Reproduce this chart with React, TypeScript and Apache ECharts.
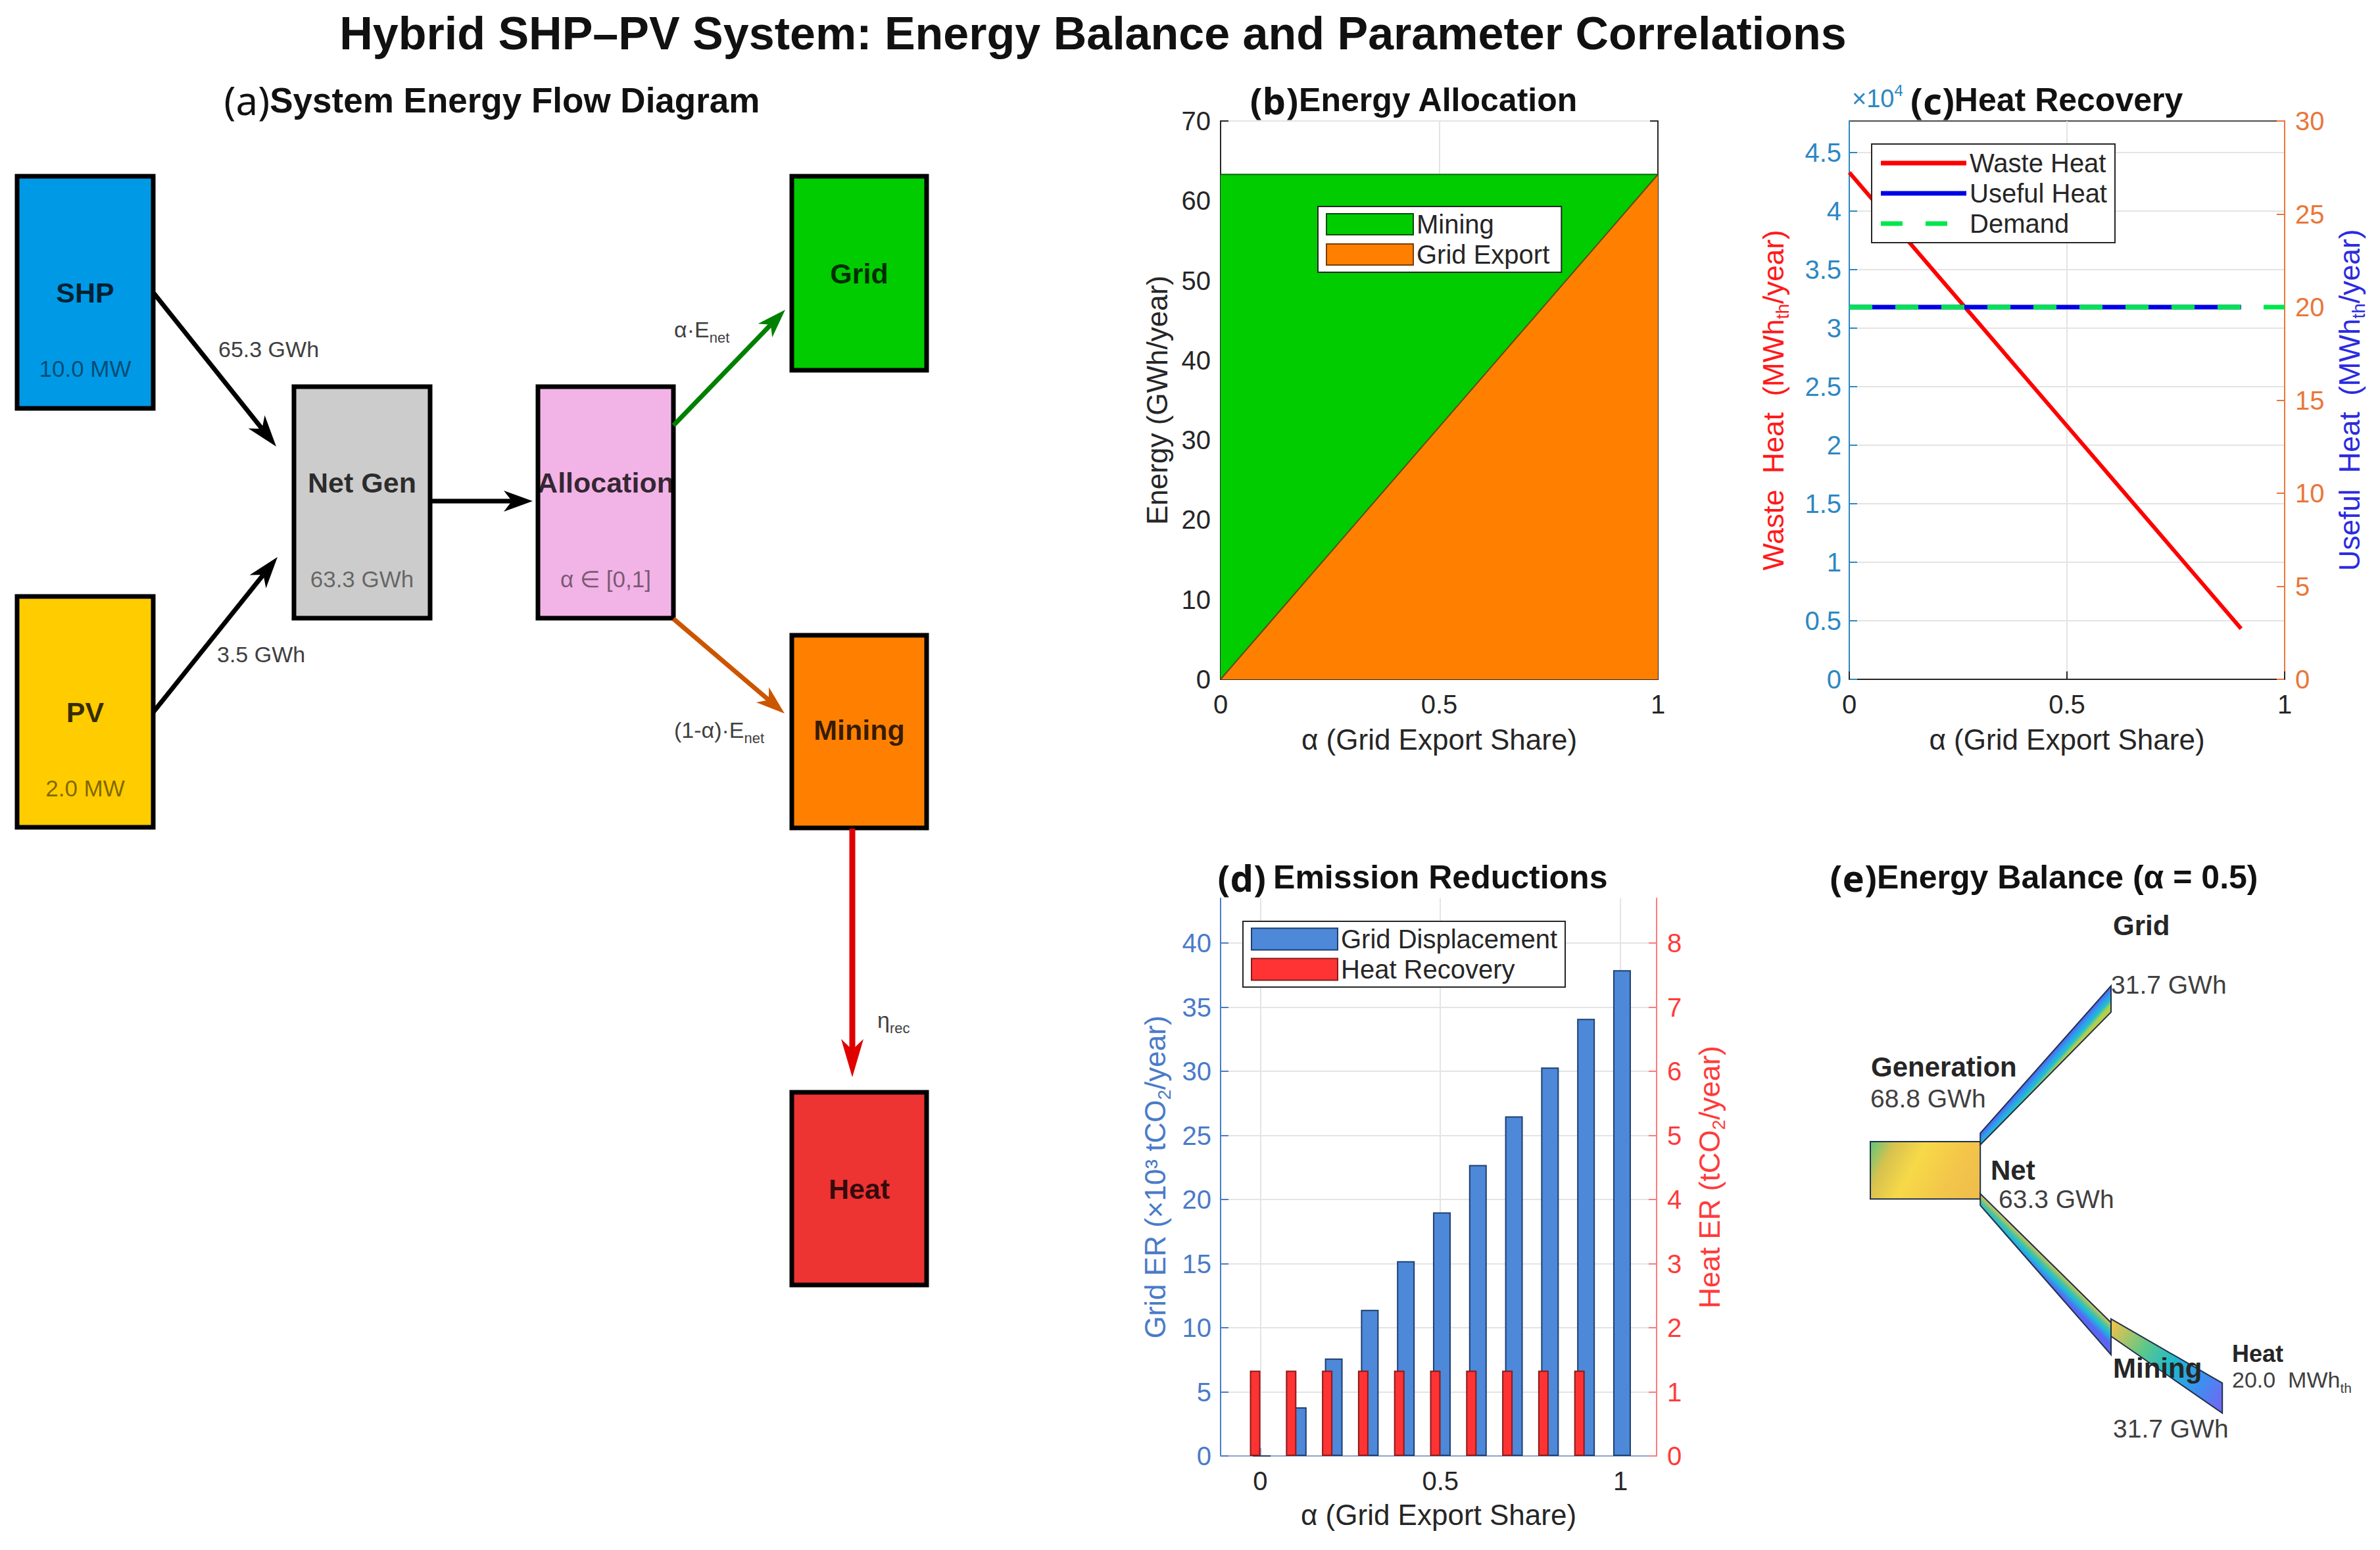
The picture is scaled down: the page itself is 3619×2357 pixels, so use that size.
import React, { useEffect, useRef } from 'react';
import * as echarts from 'echarts';

const W = 3619;
const H = 2357;
const FONT = '"Liberation Sans", Arial, Helvetica, sans-serif';
const TAG_FONT = '"Noto Sans", "Open Sans", sans-serif';
const INK = '#262626';

// ---------------- (a) System energy flow diagram ----------------
const flowNodeNames = ['SHP', 'PV', 'Net Gen', 'Allocation', 'Grid', 'Mining', 'Heat'];
const flowNodeValues = ['10.0 MW', '2.0 MW', '63.3 GWh', 'α ∈ [0,1]', '', '', ''];
const flowEdgeLabels = ['65.3 GWh', '3.5 GWh', '', '{m|α·E}{s|net}', '{m|(1-α)·E}{s|net}', '{m|η}{s|rec}'];

// ---------------- (b) Energy allocation ----------------
const allocAlpha = [0, 0.1, 0.2, 0.3, 0.4, 0.5, 0.6, 0.7, 0.8, 0.9, 1.0];
const gridExportGWh = [0, 6.33, 12.66, 18.99, 25.32, 31.65, 37.98, 44.31, 50.64, 56.97, 63.3];
const miningGWh = [63.3, 56.97, 50.64, 44.31, 37.98, 31.65, 25.32, 18.99, 12.66, 6.33, 0];

// ---------------- (c) Heat recovery ----------------
const heatAlpha = [0, 0.1, 0.2, 0.3, 0.4, 0.5, 0.6, 0.7, 0.8, 0.9];
const wasteHeatMWh = [43300, 38970, 34640, 30310, 25980, 21650, 17320, 12990, 8660, 4330];
const usefulHeatMWh = [20, 20, 20, 20, 20, 20, 20, 20, 20, 20];
const demandAlpha = [0, 1];
const demandMWh = [20, 20];
const wasteTicks = [0, 5000, 10000, 15000, 20000, 25000, 30000, 35000, 40000, 45000];

// ---------------- (d) Emission reductions ----------------
const erAlpha = [0, 0.1, 0.2, 0.3, 0.4, 0.5, 0.6, 0.7, 0.8, 0.9, 1.0];
const gridERk = [0, 3.8, 7.6, 11.4, 15.2, 19.0, 22.7, 26.5, 30.3, 34.1, 37.9];
const heatERt = [1.33, 1.33, 1.33, 1.33, 1.33, 1.33, 1.33, 1.33, 1.33, 1.33, null];
const gridERTicks = [0, 5, 10, 15, 20, 25, 30, 35, 40];
const heatERTicks = [0, 1, 2, 3, 4, 5, 6, 7, 8];
const alphaTicks = [0, 0.5, 1];

// ---------------- (e) Energy balance ----------------
const balanceNames = ['Generation', 'Grid', 'Mining', 'Heat'];
const balanceValues = [68.8, 31.7, 31.7, 20.0];
const netGWh = 63.3;

// ---------------- layout (positions / styles only) ----------------
const flowBoxLayout = [
  { x: 26, y: 268, w: 207, h: 353, ny: 0.5, vy: 0.83, fill: '#0099E6' },
  { x: 26, y: 907, w: 207, h: 351, ny: 0.5, vy: 0.83, fill: '#FFCC00' },
  { x: 447, y: 588, w: 207, h: 352, ny: 0.415, vy: 0.83, fill: '#CCCCCC' },
  { x: 818, y: 588, w: 206, h: 352, ny: 0.415, vy: 0.83, fill: '#F2B3E6' },
  { x: 1204, y: 268, w: 205, h: 295, ny: 0.5, vy: 0.83, fill: '#00CC00' },
  { x: 1204, y: 966, w: 205, h: 293, ny: 0.49, vy: 0.83, fill: '#FF8000' },
  { x: 1204, y: 1661, w: 205, h: 293, ny: 0.5, vy: 0.83, fill: '#EE3333' },
];
const flowArrowLayout = [
  { from: [234, 446], to: [420, 679], color: '#000000', lw: 7, hl: 48, hw: 32, lx: 332, ly: 531 },
  { from: [233, 1083], to: [422, 847], color: '#000000', lw: 7, hl: 48, hw: 32, lx: 330, ly: 995 },
  { from: [655, 762], to: [810, 762], color: '#000000', lw: 7, hl: 44, hw: 32, lx: 0, ly: 0 },
  { from: [1024, 647], to: [1194, 471], color: '#008000', lw: 7, hl: 44, hw: 30, lx: 1025, ly: 501 },
  { from: [1024, 941], to: [1193, 1085], color: '#CC5500', lw: 7, hl: 44, hw: 30, lx: 1025, ly: 1110 },
  { from: [1296, 1260], to: [1296, 1638], color: '#E00000', lw: 9, hl: 58, hw: 34, lx: 1334, ly: 1551 },
];
// polygons in the hidden (e) cartesian grid (0..10 x 0..10), order ul, ur, lr, ll
const balanceGeom = [
  { pts: [[0.55, 5.8], [2.64, 5.8], [2.64, 4.71], [0.55, 4.71]], grad: 'diag',
    stops: [[0, '#5cc67a'], [0.18, '#d8c24e'], [0.4, '#f7d948'], [0.7, '#f3c64a'], [1, '#eebc4c']] },
  { pts: [[2.64, 5.96], [5.125, 8.76], [5.125, 8.26], [2.64, 5.74]], grad: 'perp',
    stops: [[0, '#5a5cef'], [0.35, '#2d9bf0'], [0.7, '#22c0cc'], [1, '#b5cf4a']] },
  { pts: [[2.64, 4.81], [5.125, 2.36], [5.125, 1.75], [2.64, 4.59]], grad: 'perp',
    stops: [[0, '#e8c24c'], [0.35, '#4cc59a'], [0.65, '#1fb3e3'], [1, '#5a66f2']] },
  { pts: [[5.125, 2.43], [7.24, 1.21], [7.24, 0.64], [5.125, 2.1]], grad: 'along',
    stops: [[0, '#ebc24c'], [0.3, '#5dc78a'], [0.55, '#1db9d0'], [0.8, '#3c90f0'], [1, '#6c6cf2']] },
];
const SOLID_ICON = 'path://M0,0H130V7H0Z';
const DASH_ICON = 'path://M0,0H33V7H0Z M68,0H101V7H68Z M130,0L130,7Z';

function txt(x: number, y: number, text: string, o: any = {}) {
  const align = o.align ?? 'left';
  return {
    type: 'text', x, y, z: o.z ?? 50, silent: true,
    style: {
      text, fill: o.fill ?? INK, fontSize: o.size ?? 40, fontFamily: o.family ?? FONT,
      fontWeight: o.weight ?? 'normal', align, verticalAlign: 'middle',
      textAlign: align, textVerticalAlign: 'middle', rich: o.rich,
    },
  };
}

function arrowEls(from: number[], to: number[], color: string, lw: number, hl: number, hw: number) {
  const dx = to[0] - from[0];
  const dy = to[1] - from[1];
  const L = Math.hypot(dx, dy);
  const ux = dx / L, uy = dy / L;
  const px = -uy, py = ux;
  const bx = to[0] - ux * hl, by = to[1] - uy * hl;
  const nx = to[0] - ux * hl * 0.72, ny = to[1] - uy * hl * 0.72;
  return [
    { type: 'line', z: 20, silent: true, shape: { x1: from[0], y1: from[1], x2: nx, y2: ny }, style: { stroke: color, lineWidth: lw } },
    { type: 'polygon', z: 21, silent: true, shape: { points: [to, [bx + px * hw / 2, by + py * hw / 2], [nx, ny], [bx - px * hw / 2, by - py * hw / 2]] }, style: { fill: color } },
  ];
}

function axis(o: any) {
  const color = o.color ?? INK;
  const lineColor = o.lineColor ?? color;
  return {
    type: 'value', gridIndex: o.grid, position: o.position,
    min: o.min, max: o.max, interval: o.interval,
    name: o.name, nameLocation: 'middle', nameGap: o.nameGap, nameRotate: o.nameRotate,
    nameTextStyle: { color: o.nameColor ?? INK, fontSize: 44, fontFamily: FONT, rich: o.rich },
    axisLine: { show: true, onZero: false, lineStyle: { color: lineColor, width: 2 } },
    axisTick: { show: true, inside: true, length: 12, lineStyle: { color: lineColor, width: 2 }, customValues: o.ticks },
    axisLabel: { show: o.labels ?? true, color, fontSize: 40, fontFamily: FONT, margin: o.margin ?? 14, customValues: o.ticks, formatter: o.formatter },
    splitLine: { show: !!o.split, lineStyle: { color: '#e4e4e4', width: 2 } },
  };
}

function subRich(color: string, size: number, sub: number, weight = 'normal') {
  return {
    a: { color, fill: color, fontSize: size, fontFamily: FONT, fontWeight: weight, lineHeight: size + 12 },
    m: { color, fill: color, fontSize: size, fontFamily: FONT, fontWeight: weight, lineHeight: size + 12 },
    s: { color, fill: color, fontSize: sub, fontFamily: FONT, fontWeight: weight, lineHeight: sub, verticalAlign: 'bottom' },
    b: { color, fill: color, fontSize: sub, fontFamily: FONT, fontWeight: weight, lineHeight: sub, verticalAlign: 'top' },
  };
}

function buildOption() {
  const graphics: any[] = [];

  // main title and panel titles
  graphics.push(txt(1662, 51, 'Hybrid SHP–PV System: Energy Balance and Parameter Correlations', { align: 'center', size: 70, weight: 'bold', fill: '#111' }));
  const titleRich = (tagWeight: string, tagSize = 56, size = 50) => ({
    t: { fontFamily: TAG_FONT, fontSize: tagSize, fontWeight: tagWeight, fill: '#111' },
    s: { fontFamily: FONT, fontSize: size, fontWeight: 'bold', fill: '#111' },
  });
  graphics.push(txt(748, 152, '{t|(a)}{s|System Energy Flow Diagram}', { align: 'center', rich: titleRich('normal', 60, 53) }));
  graphics.push(txt(2150, 152, '{t|(b)}{s|Energy Allocation}', { align: 'center', rich: titleRich('bold') }));
  graphics.push(txt(2905, 152, '{t|(c)}{s|Heat Recovery}', { align: 'left', rich: titleRich('bold') }));
  graphics.push(txt(2148, 1334, '{t|(d)} {s|Emission Reductions}', { align: 'center', rich: titleRich('bold') }));
  graphics.push(txt(3108, 1334, '{t|(e)}{s|Energy Balance (α = 0.5)}', { align: 'center', rich: titleRich('bold') }));
  graphics.push(txt(2816, 150, '{a|×10}{b|4}', { rich: subRich('#2D87C3', 38, 24) }));

  // (a) boxes
  flowBoxLayout.forEach((b, i) => {
    graphics.push({ type: 'rect', z: 10, silent: true, shape: { x: b.x, y: b.y, width: b.w, height: b.h }, style: { fill: b.fill } });
    graphics.push(txt(b.x + b.w / 2, b.y + b.h * b.ny, flowNodeNames[i], { align: 'center', size: 43, weight: 'bold', fill: 'rgba(0,0,0,0.78)', z: 11 }));
    if (flowNodeValues[i]) {
      graphics.push(txt(b.x + b.w / 2, b.y + b.h * b.vy, flowNodeValues[i], { align: 'center', size: 35, fill: 'rgba(0,0,0,0.5)', z: 11 }));
    }
    graphics.push({ type: 'rect', z: 12, silent: true, shape: { x: b.x, y: b.y, width: b.w, height: b.h }, style: { fill: 'none', stroke: '#000', lineWidth: 7 } });
  });
  // (a) arrows
  flowArrowLayout.forEach((a, i) => {
    graphics.push(...arrowEls(a.from, a.to, a.color, a.lw, a.hl, a.hw));
    if (flowEdgeLabels[i]) {
      graphics.push(txt(a.lx, a.ly, flowEdgeLabels[i], { size: 34, fill: '#404040', rich: subRich('#404040', 34, 22) }));
    }
  });

  // (e) labels
  graphics.push(txt(3213, 1407, 'Grid', { size: 42, weight: 'bold' }));
  graphics.push(txt(3210, 1497, `${balanceValues[1].toFixed(1)} GWh`, { size: 39, fill: '#404040' }));
  graphics.push(txt(2845, 1622, balanceNames[0], { size: 42, weight: 'bold' }));
  graphics.push(txt(2844, 1670, `${balanceValues[0].toFixed(1)} GWh`, { size: 39, fill: '#404040' }));
  graphics.push(txt(3027, 1779, 'Net', { size: 42, weight: 'bold' }));
  graphics.push(txt(3039, 1823, `${netGWh.toFixed(1)} GWh`, { size: 39, fill: '#404040' }));
  graphics.push(txt(3213, 2080, balanceNames[2], { size: 42, weight: 'bold' }));
  graphics.push(txt(3213, 2172, `${balanceValues[2].toFixed(1)} GWh`, { size: 39, fill: '#404040' }));
  graphics.push(txt(3394, 2058, balanceNames[3], { size: 36, weight: 'bold' }));
  graphics.push(txt(3394, 2098, `{a|${balanceValues[3].toFixed(1)}  MWh}{s|th}`, { rich: subRich('#404040', 34, 21) }));

  const wasteName = '{a|Waste  Heat  (MWh}{s|th}{a|/year)}';
  const usefulName = '{a|Useful  Heat  (MWh}{s|th}{a|/year)}';
  const gridERName = '{a|Grid ER (×10³ tCO}{s|2}{a|/year)}';
  const heatERName = '{a|Heat ER (tCO}{s|2}{a|/year)}';
  const allocTotal = allocAlpha.map((_, i) => gridExportGWh[i] + miningGWh[i]);

  return {
    animation: false,
    backgroundColor: '#ffffff',
    textStyle: { fontFamily: FONT },
    grid: [
      { left: 1856, top: 184, width: 665, height: 849, show: true, borderColor: '#4d4d4d', borderWidth: 2 },
      { left: 2812, top: 184, width: 662, height: 849, show: true, borderColor: '#4d4d4d', borderWidth: 2 },
      { left: 1856, top: 1366, width: 663, height: 848 },
      { left: 2800, top: 1400, width: 800, height: 800 },
    ],
    xAxis: [
      axis({ grid: 0, min: 0, max: 1, interval: 0.5, split: true, name: 'α (Grid Export Share)', nameGap: 69, margin: 18 }),
      axis({ grid: 1, min: 0, max: 1, interval: 0.5, split: true, name: 'α (Grid Export Share)', nameGap: 69, margin: 18 }),
      axis({ grid: 2, min: -0.11, max: 1.1, ticks: alphaTicks, split: true, name: 'α (Grid Export Share)', nameGap: 67, margin: 18, lineColor: '#8ea3c8' }),
      { type: 'value', gridIndex: 3, min: 0, max: 10, show: false },
    ],
    yAxis: [
      axis({ grid: 0, min: 0, max: 70, interval: 10, split: true, name: 'Energy (GWh/year)', nameGap: 75, nameRotate: 90, margin: 15 }),
      axis({ grid: 0, position: 'right', min: 0, max: 70, interval: 10, labels: false }),
      axis({ grid: 1, min: 0, max: 47700, interval: 5000, ticks: wasteTicks, split: true, color: '#2D87C3',
        formatter: (v: number) => String(Math.round(v / 1000) / 10),
        name: wasteName, nameColor: '#FF1A1A', rich: subRich('#FF1A1A', 44, 28), nameGap: 88, nameRotate: 90, margin: 12 }),
      axis({ grid: 1, position: 'right', min: 0, max: 30, interval: 5, color: '#E8773A',
        name: usefulName, nameColor: '#2B2BE0', rich: subRich('#2B2BE0', 44, 28), nameGap: 70, nameRotate: 90, margin: 16 }),
      axis({ grid: 2, min: 0, max: 43.5, interval: 5, ticks: gridERTicks, split: true, color: '#4A7BC8',
        name: gridERName, nameColor: '#4A7BC8', rich: subRich('#4A7BC8', 44, 28), nameGap: 72, nameRotate: 90, margin: 14 }),
      axis({ grid: 2, position: 'right', min: 0, max: 8.7, interval: 1, ticks: heatERTicks, color: '#FF3B3B', lineColor: '#FF7A7A',
        name: heatERName, nameColor: '#FF3B3B', rich: subRich('#FF3B3B', 44, 28), nameGap: 52, nameRotate: 90, margin: 16 }),
      { type: 'value', gridIndex: 3, min: 0, max: 10, show: false },
    ],
    legend: [
      {
        left: 2004, top: 314, orient: 'vertical', selectedMode: false, icon: 'rect',
        data: [
          { name: 'Mining', itemStyle: { borderColor: '#0b4d0b', borderWidth: 2 } },
          { name: 'Grid Export', itemStyle: { borderColor: '#7a3d00', borderWidth: 2 } },
        ],
        itemWidth: 132, itemHeight: 32, itemGap: 6, padding: [7, 18, 7, 12],
        backgroundColor: '#fff', borderColor: '#262626', borderWidth: 2,
        textStyle: { fontSize: 40, color: INK, fontFamily: FONT },
      },
      {
        left: 2846, top: 219, orient: 'vertical', selectedMode: false,
        data: [
          { name: 'Waste Heat', icon: SOLID_ICON },
          { name: 'Useful Heat', icon: SOLID_ICON },
          { name: 'Demand', icon: DASH_ICON },
        ],
        itemWidth: 130, itemHeight: 7, itemGap: 0, padding: [6, 12, 6, 14],
        backgroundColor: '#fff', borderColor: '#262626', borderWidth: 2,
        textStyle: { fontSize: 40, lineHeight: 46, color: INK, fontFamily: FONT },
      },
      {
        left: 1890, top: 1401, orient: 'vertical', selectedMode: false, icon: 'rect',
        data: [
          { name: 'Grid Displacement', itemStyle: { borderColor: '#1f3f6f', borderWidth: 2 } },
          { name: 'Heat Recovery', itemStyle: { borderColor: '#8a1a1a', borderWidth: 2 } },
        ],
        itemWidth: 131, itemHeight: 33, itemGap: 6, padding: [7, 12, 7, 12],
        backgroundColor: '#fff', borderColor: '#262626', borderWidth: 2,
        textStyle: { fontSize: 40, color: INK, fontFamily: FONT },
      },
    ],
    series: [
      {
        name: 'Mining', type: 'line', xAxisIndex: 0, yAxisIndex: 0, symbol: 'none', showSymbol: false, z: 2,
        data: allocAlpha.map((a, i) => [a, allocTotal[i]]),
        lineStyle: { color: '#0a6a0a', width: 2 }, areaStyle: { color: '#00CC00', opacity: 1 },
        itemStyle: { color: '#00CC00' },
      },
      {
        name: 'Grid Export', type: 'line', xAxisIndex: 0, yAxisIndex: 0, symbol: 'none', showSymbol: false, z: 3,
        data: allocAlpha.map((a, i) => [a, gridExportGWh[i]]),
        lineStyle: { color: '#5c4a10', width: 2 }, areaStyle: { color: '#FF8000', opacity: 1 },
        itemStyle: { color: '#FF8000' },
      },
      {
        name: 'Waste Heat', type: 'line', xAxisIndex: 1, yAxisIndex: 2, symbol: 'none', showSymbol: false, z: 3,
        data: heatAlpha.map((a, i) => [a, wasteHeatMWh[i]]),
        lineStyle: { color: '#FF0000', width: 6 }, itemStyle: { color: '#FF0000' },
      },
      {
        name: 'Useful Heat', type: 'line', xAxisIndex: 1, yAxisIndex: 3, symbol: 'none', showSymbol: false, z: 4,
        data: heatAlpha.map((a, i) => [a, usefulHeatMWh[i]]),
        lineStyle: { color: '#0000E6', width: 7 }, itemStyle: { color: '#0000E6' },
      },
      {
        name: 'Demand', type: 'line', xAxisIndex: 1, yAxisIndex: 3, symbol: 'none', showSymbol: false, z: 5,
        data: demandAlpha.map((a, i) => [a, demandMWh[i]]),
        lineStyle: { color: '#00E64D', width: 7, type: [35, 35] }, itemStyle: { color: '#00E64D' },
      },
      {
        name: 'Heat Recovery', type: 'bar', xAxisIndex: 2, yAxisIndex: 5, z: 4,
        barWidth: 16, barGap: '-72%',
        data: erAlpha.map((a, i) => [a, heatERt[i]]).filter((d) => d[1] != null),
        itemStyle: { color: '#FF3333', borderColor: '#8a1a1a', borderWidth: 2 },
      },
      {
        name: 'Grid Displacement', type: 'bar', xAxisIndex: 2, yAxisIndex: 4, z: 3,
        barWidth: 27, barGap: '-72%',
        data: erAlpha.map((a, i) => [a, gridERk[i]]),
        itemStyle: { color: '#4D88D9', borderColor: '#1f3f6f', borderWidth: 2 },
      },
      {
        name: 'Energy Balance', type: 'custom', xAxisIndex: 3, yAxisIndex: 6, clip: false, silent: true, z: 2,
        data: balanceValues.map((v, i) => [i, v]),
        renderItem: (params: any, api: any) => {
          const g = balanceGeom[params.dataIndex];
          const p = g.pts.map((pt) => api.coord(pt));
          let from: number[];
          let to: number[];
          if (g.grad === 'diag') {
            from = p[0]; to = p[2];
          } else if (g.grad === 'along') {
            from = [(p[0][0] + p[3][0]) / 2, (p[0][1] + p[3][1]) / 2];
            to = [(p[1][0] + p[2][0]) / 2, (p[1][1] + p[2][1]) / 2];
          } else {
            const mu = [(p[0][0] + p[1][0]) / 2, (p[0][1] + p[1][1]) / 2];
            const ml = [(p[3][0] + p[2][0]) / 2, (p[3][1] + p[2][1]) / 2];
            const dx = p[1][0] - p[0][0], dy = p[1][1] - p[0][1];
            const L = Math.hypot(dx, dy);
            const nx = -dy / L, ny = dx / L;
            const d = (ml[0] - mu[0]) * nx + (ml[1] - mu[1]) * ny;
            from = mu; to = [mu[0] + nx * d, mu[1] + ny * d];
          }
          const fill = new echarts.graphic.LinearGradient(from[0], from[1], to[0], to[1],
            g.stops.map((s) => ({ offset: s[0] as number, color: s[1] as string })), true);
          return { type: 'polygon', shape: { points: p }, style: { fill, stroke: '#22304a', lineWidth: 2 } };
        },
      },
    ],
    graphic: { elements: graphics },
  };
}

export default function App() {
  const ref = useRef<HTMLDivElement>(null);
  useEffect(() => {
    document.body.style.margin = '0';
    const chart = echarts.init(ref.current as HTMLDivElement, null, { renderer: 'svg', width: W, height: H });
    chart.setOption(buildOption() as any);
    return () => chart.dispose();
  }, []);
  return <div ref={ref} style={{ width: W, height: H, position: 'absolute', left: 0, top: 0, background: '#fff' }} />;
}
